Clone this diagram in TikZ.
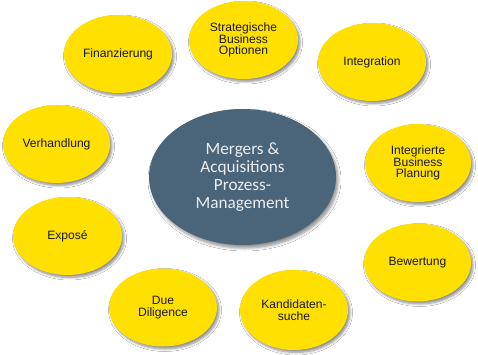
\documentclass[tikz,border=0pt]{standalone}
\usepackage{fontspec}
\setmainfont{Liberation Sans}
\newfontfamily\calib{Carlito}
\usetikzlibrary{shapes.geometric,shadows.blur}
\definecolor{ylw}{RGB}{255,224,0}
\definecolor{slate}{RGB}{74,100,121}
\definecolor{txt}{RGB}{25,25,25}
\definecolor{ctxt}{RGB}{235,238,240}
\tikzset{
  bubble/.style={ellipse, fill=ylw, inner sep=0pt, minimum width=108pt, minimum height=78pt,
    align=center, text=txt, font=\fontsize{12.1}{11.8}\selectfont,
    blur shadow={shadow xshift=2pt, shadow yshift=-2.5pt, shadow blur radius=2.5pt, shadow blur steps=6, shadow opacity=45}},
  hub/.style={ellipse, fill=slate, inner sep=0pt, minimum width=187pt, minimum height=136pt,
    align=center, text=ctxt, font=\calib\fontsize{17.2}{17.8}\selectfont,
    blur shadow={shadow xshift=2pt, shadow yshift=-3pt, shadow blur radius=3pt, shadow blur steps=6, shadow opacity=45}}
}
\begin{document}
\begin{tikzpicture}[x=1pt,y=-1pt]
\useasboundingbox[fill=white] (0,0) rectangle (478,355);
\node[hub] (hub) at (242.5,177) {Mergers \&\\Acquisitions\\Prozess-\\Management};
\node[bubble] (fin) at (118,54) {Finanzierung};
\node[bubble, minimum width=109pt] (str) at (243.5,40) {Strategische\\Business\\Optionen};
\node[bubble] (int) at (372,62) {Integration};
\node[bubble, minimum width=106pt] (ibp) at (418,163) {Integrierte\\Business\\Planung};
\node[bubble, minimum width=107pt] (ver) at (56.5,144) {Verhandlung};
\node[bubble, minimum width=109pt] (exp) at (67.5,236) {Exposé};
\node[bubble] (due) at (163,307.5) {Due\\Diligence};
\node[bubble, minimum height=80pt] (kan) at (294,310) {Kandidaten-\\suche};
\node[bubble, minimum width=107pt] (bew) at (417.5,262.5) {Bewertung};
\end{tikzpicture}
\end{document}
